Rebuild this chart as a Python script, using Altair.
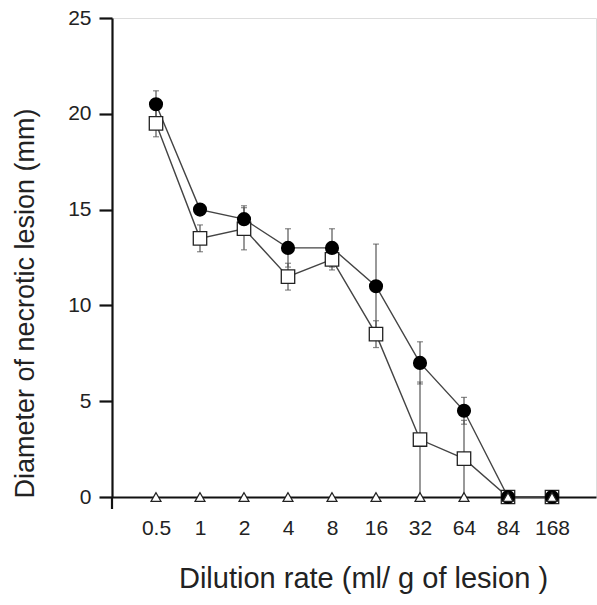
import altair as alt
import pandas as pd

dilution = ["0.5", "1", "2", "4", "8", "16", "32", "64", "84", "168"]
circle_mean = [20.5, 15.0, 14.5, 13.0, 13.0, 11.0, 7.0, 4.5, 0.0, 0.0]
circle_err = [0.7, 0.3, 0.7, 1.0, 1.0, 2.2, 1.1, 0.7, 0.0, 0.0]
square_mean = [19.5, 13.5, 14.0, 11.5, 12.4, 8.5, 3.0, 2.0, 0.0, 0.0]
square_err = [0.7, 0.7, 1.1, 0.7, 0.55, 0.7, 3.0, 2.0, 0.0, 0.0]
triangle_mean = [0.0, 0.0, 0.0, 0.0, 0.0, 0.0, 0.0, 0.0, 0.0, 0.0]

rows = []
for name, means, errs in [("square", square_mean, square_err),
                          ("circle", circle_mean, circle_err),
                          ("triangle", triangle_mean, [0.0] * len(dilution))]:
    for d, m, e in zip(dilution, means, errs):
        rows.append({"dilution": d, "series": name, "value": m, "err": e,
                     "lo": max(m - e, 0.0), "hi": m + e})
df = pd.DataFrame(rows)

FONT = "Liberation Sans"
TXT = "#222222"

x_enc = alt.X("dilution:O", sort=dilution,
              scale=alt.Scale(type="point", padding=1),
              axis=alt.Axis(title="Dilution rate (ml/ g of lesion )", labelAngle=0,
                            labelFontSize=21, titleFontSize=29, labelFont=FONT,
                            titleFont=FONT, labelColor=TXT, titleColor=TXT,
                            titleFontWeight="normal", ticks=False, labelPadding=20,
                            titlePadding=26, titleX=251, domainColor="#111", domainWidth=2.2))
y_scale = alt.Scale(domain=[0, 25], nice=False)
y_enc = alt.Y("value:Q", scale=y_scale,
              axis=alt.Axis(title="Diameter of necrotic lesion (mm)", values=[0, 5, 10, 15, 20, 25],
                            grid=False, labelFontSize=21, titleFontSize=27, labelFont=FONT,
                            titleFont=FONT, labelColor=TXT, titleColor=TXT,
                            titleFontWeight="normal", tickSize=13, tickWidth=2.2,
                            tickColor="#111", domainColor="#111", domainWidth=2.2,
                            labelPadding=8, titleX=-87, titleY=285,
                            titleAlign="center", titleBaseline="middle"))

base = alt.Chart(df)
err_df = base.transform_filter("datum.err > 0 && datum.series != 'triangle'")

err_rules = err_df.mark_rule(color="#555", strokeWidth=1.2).encode(
    x=x_enc, y=alt.Y("lo:Q", scale=y_scale), y2="hi:Q")
err_top = err_df.mark_tick(color="#555", size=6, thickness=1.2, orient="horizontal").encode(
    x=x_enc, y=alt.Y("hi:Q", scale=y_scale))
err_bot = err_df.mark_tick(color="#555", size=6, thickness=1.2, orient="horizontal").encode(
    x=x_enc, y=alt.Y("lo:Q", scale=y_scale))

lines = base.transform_filter("datum.series != 'triangle'").mark_line(
    color="#444", strokeWidth=1.4).encode(x=x_enc, y=y_enc, detail="series:N")

squares = base.transform_filter("datum.series == 'square'").mark_point(
    shape="square", filled=True, fill="white", stroke="#222", strokeWidth=1.3,
    size=180, opacity=1).encode(x=x_enc, y=y_enc)
circles = base.transform_filter("datum.series == 'circle'").mark_point(
    shape="circle", filled=True, color="black", size=200, opacity=1).encode(x=x_enc, y=y_enc)
triangles = base.transform_filter("datum.series == 'triangle'").mark_point(
    shape="triangle-up", filled=True, fill="white", stroke="#222", strokeWidth=1.2,
    size=100, opacity=1).encode(x=x_enc, y=y_enc)

axis_ext = alt.Chart(pd.DataFrame({"a": [0]})).mark_rule(color="#111", strokeWidth=2.2).encode(
    x=alt.value(0), y=alt.value(479), y2=alt.value(491))

chart = alt.layer(err_rules, err_top, err_bot, lines, squares, circles, triangles, axis_ext).properties(
    width=484, height=479,
    autosize=alt.AutoSizeParams(type="none"),
    padding={"left": 112, "top": 18, "right": 1, "bottom": 108},
).configure_view(stroke="#111", strokeWidth=2.2).configure(background="white")

chart.save("out.html", embed_options={"renderer": "svg", "actions": False})
